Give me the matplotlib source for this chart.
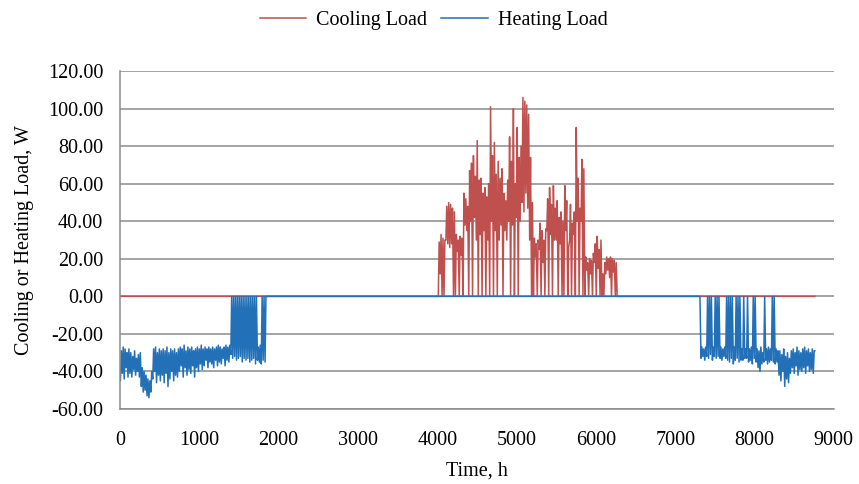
import numpy as np
import matplotlib
matplotlib.use("Agg")
import matplotlib.pyplot as plt
from matplotlib.ticker import FormatStrFormatter

# daily high / low (W); days outside the lists are 0
cool_start_day = 167
cool_hi = [29, 33, 31, 30,
           48, 50, 49, 47, 45,
           33, 30, 32, 31,
           55, 52, 48,
           67, 71, 75, 64,
           83, 62,
           63, 55, 58, 53, 60,
           101, 75,
           82, 65, 72, 63,
           68, 55, 51, 62,
           85, 72, 100, 60,
           90, 74, 80,
           106, 104, 102,
           97, 74,
           50,
           31, 28, 30,
           39, 35, 30, 36,
           52, 58, 49, 59, 47,
           51, 42, 45, 40,
           59, 51, 26,
           49, 39, 45,
           90,
           63, 47,
           73, 68,
           21, 18, 20, 19,
           23, 28, 32, 25, 30,
           12,
           18, 21, 20, 21, 20, 19, 18]
cool_lo = [0, 12, 0, 0,
           30, 28, 26, 28, 0,
           0, 24, 0, 22,
           0, 38, 35,
           0, 40, 0, 42,
           30, 0,
           33, 0, 35, 0, 30,
           0, 40,
           0, 35, 0, 30,
           38, 0, 35, 30,
           40, 0, 38, 0,
           42, 0, 40,
           50, 45, 55,
           47, 30,
           0,
           0, 21, 0,
           25, 0, 18, 0,
           35, 0, 33, 0, 30,
           30, 0, 28, 0,
           0, 35, 0,
           30, 0, 33,
           0,
           40, 0,
           40, 0,
           0, 14, 0, 12,
           0, 18, 0, 15, 0,
           0,
           0, 12, 14, 10, 0, 13, 0]

heat_start_day_1 = 0
heat_hi_1 = [-29, -27, -28, -30, -28,
             -30, -32, -29, -33, -31, -30,
             -38, -40, -42, -44, -45, -40,
             -28, -27, -30, -28, -29,
             -28, -29, -27, -30, -28, -29, -28, -30, -28,
             -27, -28, -26, -29, -27, -28, -27, -29, -28, -27, -28, -26, -28,
             -27, -28, -27, -28, -27, -28, -27, -26, -27, -28, -27, -26, -27, -26,
             0, 0, 0, 0, 0, 0, 0, 0, 0, 0, 0, 0, 0, 0, -27, -26, 0, 0, 0]
heat_lo_1 = [-45, -41, -44, -38, -43,
             -41, -43, -39, -42, -40, -43,
             -48, -51, -50, -53, -54, -51,
             -44, -40, -46, -42, -45,
             -42, -46, -41, -48, -44, -40, -45, -42, -43,
             -40, -37, -43, -38, -42, -39, -41, -37, -43, -38, -40, -36, -39,
             -37, -34, -38, -35, -36, -38, -34, -37, -35, -36, -33, -37, -34, -35,
             -31, -33, -32, -34, -33, -32, -35, -33, -34, -33, -35, -34, -33, -36,
             -34, -35, -36, -34, -35]

heat_start_day_2 = 305
heat_hi_2 = [-27, -28, -27,
             0, 0, 0, -27, 0, 0, 0,
             -27, -28, -27,
             0, 0, 0, 0, -27, 0, 0, 0, -28,
             0, -28,
             0, -28, -27, 0, 0,
             -28, -29, -27, -30, 0,
             -28, -27, -28,
             0, 0,
             -28, -29,
             -29, -31, -28, -32, -30, -33, -29,
             -28, -30, -27, -29, -30, -28, -27, -29, -28, -30, -28, -29]
heat_lo_2 = [-33, -32, -34,
             -32, -33, -31, -34, -32, -33, -32,
             -33, -34, -32,
             -33, -34, -35, -33, -36, -34, -33, -35, -34,
             -34, -33,
             -33, -35, -34, -36, -33,
             -35, -38, -40, -36, -35,
             -34, -36, -35,
             -34, -35,
             -36, -35,
             -42, -45, -40, -48, -44, -46, -41,
             -38, -41, -37, -42, -39, -40, -38, -41, -37, -40, -39, -41]

n_days = 365


def daily_series(parts):
    hi = np.zeros(n_days)
    lo = np.zeros(n_days)
    for start, h, l in parts:
        hi[start:start + len(h)] = h
        lo[start:start + len(l)] = l
    d = np.arange(n_days) * 24
    x = np.column_stack([d + 5, d + 16]).ravel()
    y = np.column_stack([lo, hi]).ravel()
    x = np.concatenate([[0], x, [8760]])
    y = np.concatenate([[y[0]], y, [y[-1]]])
    return x, y


xc, yc = daily_series([(cool_start_day, cool_hi, cool_lo)])
xh, yh = daily_series([(heat_start_day_1, heat_hi_1, heat_lo_1),
                       (heat_start_day_2, heat_hi_2, heat_lo_2)])

plt.rcParams['font.family'] = ['Liberation Serif', 'DejaVu Serif']

fig = plt.figure(figsize=(8.59, 4.84), dpi=100)
ax = fig.add_axes([0.1397, 0.155, 0.831, 0.698])

ax.plot(xc, yc, color='#C0504D', lw=1.1, label='Cooling Load')
ax.plot(xh, yh, color='#2270B8', lw=1.1, label='Heating Load')

ax.set_xlim(0, 9000)
ax.set_ylim(-60, 120)
ax.set_xticks(np.arange(0, 9001, 1000))
ax.set_yticks(np.arange(-60, 121, 20))
ax.yaxis.set_major_formatter(FormatStrFormatter('%.2f'))
ax.grid(axis='y', color='#8c8c8c', lw=1.1)
ax.set_axisbelow(True)
ax.tick_params(length=0, labelsize=14.5, colors='black')
ax.tick_params(axis='x', pad=16)
ax.tick_params(axis='y', pad=12)
for s in ['top', 'right']:
    ax.spines[s].set_visible(False)
for s in ['left', 'bottom']:
    ax.spines[s].set_color('#8c8c8c')
    ax.spines[s].set_linewidth(1.1)

ax.set_xlabel('Time, h', fontsize=14.5, labelpad=8)
ax.set_ylabel('Cooling or Heating Load, W', fontsize=14.5, labelpad=10)

fig.legend(loc='center', bbox_to_anchor=(0.505, 0.958), ncol=2, frameon=False,
           fontsize=14.5, handlelength=2.3, columnspacing=0.7, handletextpad=0.5)

fig.savefig('out.png', dpi=100)
